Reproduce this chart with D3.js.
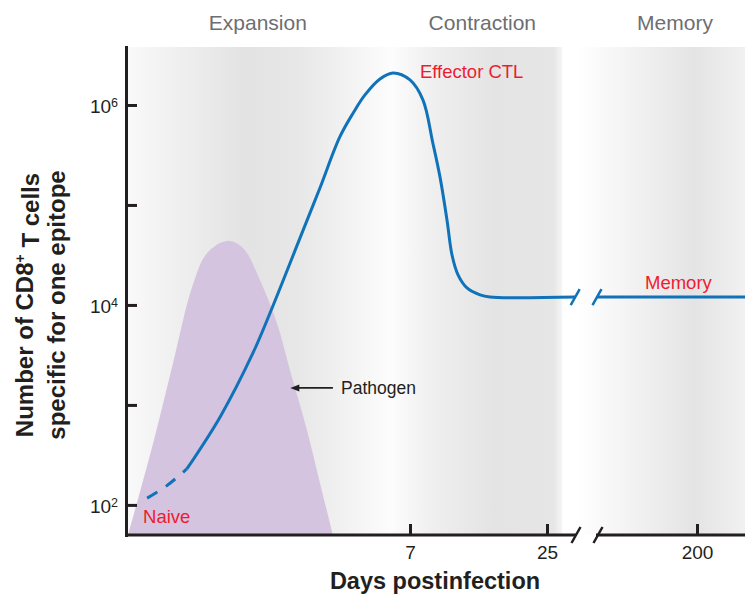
<!DOCTYPE html>
<html>
<head>
<meta charset="utf-8">
<script src="https://cdn.jsdelivr.net/npm/d3@7"></script>
<style>
  body { margin: 0; background: #fff; }
  text { font-family: "Liberation Sans", Arial, sans-serif; }
</style>
</head>
<body>
<svg id="chart"></svg>
<script>
// days postinfection / number of cells
const naiveDays   = [0.52, 1.0, 1.5];
const naiveCounts = [117, 155, 229];

const effectorDays   = [1.5, 2.32, 3.13, 3.55, 4.29, 4.78, 5.27, 5.6, 5.89, 6.26, 6.58, 7.0, 8.71, 10.0, 10.94, 11.86, 12.52, 13.31, 14.49, 16.2, 17.5, 28.7];
const effectorCounts = [229, 759, 3310, 8300, 46800, 148000, 479000, 832000, 1260000, 1820000, 2090000, 1780000, 1120000, 417000, 191000, 70800, 31600, 20000, 14800, 12600, 12000, 12000];

const memoryDays   = [150, 224];
const memoryCounts = [12000, 12000];

const pathogenDays   = [0.05, 0.67, 1.16, 1.63, 2.0, 2.49, 2.88, 3.30, 3.72, 4.04, 4.46, 4.78, 5.10];
const pathogenCounts = [50, 417, 2630, 15100, 33100, 43700, 37200, 17800, 6600, 2240, 562, 166, 50];

const phaseNames = ["Expansion", "Contraction", "Memory"];
const phaseStart = [0, 6.5, 140];
const phaseEnd   = [6.5, 27, 224];
const phaseLabelDays = [3.25, 16.5, 189];

const xTicksEarly = [7, 25];
const xTicksLate  = [200];
const yTicks = [1e2, 1e3, 1e4, 1e5, 1e6];
const yLabelled = {100: "2", 10000: "4", 1000000: "6"};

const margin = {top: 47, right: 0, bottom: 62, left: 126},
  width = 745 - margin.left - margin.right,
  height = 597 - margin.top - margin.bottom;

const ink = "#231f20", blue = "#1072b8", red = "#ee1c2e", purple = "#d5c4df";

const svg = d3.select("#chart")
  .attr("width", width + margin.left + margin.right)
  .attr("height", height + margin.top + margin.bottom);

const g = svg.append("g")
  .attr("transform", "translate(" + margin.left + "," + margin.top + ")");

// the axis is schematic: uneven before the break, separate segment after it
const x = d3.scaleLinear().domain([0, 7, 25]).range([0, 284, 421]);
const xLate = d3.scaleLinear().domain([150, 200]).range([471, 571]);
const y = d3.scaleLog().domain([50, 3.8e6]).range([height, 0]);
const phaseScale = [x, x, xLate];
const breakLeft = 449, breakRight = 471;

// shaded phase bands
const bandStops = [
  [[0, "#fafafa"], [0.1, "#f4f4f4"], [0.45, "#e3e3e3"], [0.65, "#e7e7e7"], [1, "#fcfcfc"]],
  [[0, "#fdfdfd"], [0.25, "#efefef"], [0.6, "#e4e4e4"], [0.95, "#e6e6e6"], [1, "#f6f6f6"]],
  [[0, "#ffffff"], [0.7, "#e4e4e4"], [1, "#f1f1f1"]]
];
const defs = svg.append("defs");
phaseNames.forEach(function(name, i) {
  const x0 = phaseScale[i](phaseStart[i]), x1 = Math.min(width, phaseScale[i](phaseEnd[i]));
  const grad = defs.append("linearGradient")
    .attr("id", "band" + i)
    .attr("gradientUnits", "userSpaceOnUse")
    .attr("x1", x0).attr("x2", x1).attr("y1", 0).attr("y2", 0);
  bandStops[i].forEach(function(s) {
    grad.append("stop").attr("offset", s[0]).attr("stop-color", s[1]);
  });
  g.append("rect")
    .attr("x", x0).attr("y", 0)
    .attr("width", x1 - x0).attr("height", height)
    .attr("fill", "url(#band" + i + ")");
  svg.append("text")
    .attr("x", margin.left + phaseScale[i](phaseLabelDays[i]))
    .attr("y", 30)
    .attr("text-anchor", "middle")
    .style("font-size", "21px")
    .style("fill", "#6d6e71")
    .text(name);
});

// pathogen load
const area = d3.area()
  .x(function(d) { return x(d[0]); })
  .y0(height)
  .y1(function(d) { return y(d[1]); })
  .curve(d3.curveCatmullRom.alpha(0.5));
g.append("path")
  .datum(d3.zip(pathogenDays, pathogenCounts))
  .attr("d", area)
  .attr("fill", purple);

// CD8 T cell curve
const line = d3.line()
  .x(function(d) { return x(d[0]); })
  .y(function(d) { return y(d[1]); })
  .curve(d3.curveCatmullRom.alpha(0.5));
const lineLate = d3.line()
  .x(function(d) { return xLate(d[0]); })
  .y(function(d) { return y(d[1]); });

g.append("path")
  .datum(d3.zip(naiveDays, naiveCounts))
  .attr("d", line)
  .attr("fill", "none").attr("stroke", blue).attr("stroke-width", 3)
  .attr("stroke-dasharray", "12,10");
g.append("path")
  .datum(d3.zip(effectorDays, effectorCounts))
  .attr("d", line)
  .attr("fill", "none").attr("stroke", blue).attr("stroke-width", 3);
g.append("path")
  .datum(d3.zip(memoryDays, memoryCounts))
  .attr("d", lineLate)
  .attr("fill", "none").attr("stroke", blue).attr("stroke-width", 3);

function slash(sel, cx, cy, color) {
  sel.append("line")
    .attr("x1", cx - 4.5).attr("y1", cy + 8)
    .attr("x2", cx + 4.5).attr("y2", cy - 8)
    .attr("stroke", color).attr("stroke-width", 2.5);
}
const lastEarly = effectorCounts[effectorCounts.length - 1];
slash(g, x(effectorDays[effectorDays.length - 1]), y(lastEarly), blue);
slash(g, xLate(memoryDays[0]), y(memoryCounts[0]), blue);

// axes
const yAxis = g.append("g")
  .call(d3.axisLeft(y).tickValues(yTicks).tickSize(-11).tickSizeOuter(0).tickPadding(8).tickFormat(""));
yAxis.selectAll("path, line").attr("stroke", ink).attr("stroke-width", 3);
yAxis.select(".domain").attr("stroke-linecap", "square");
yAxis.selectAll(".tick text")
  .attr("dy", "0.4em")
  .style("font-size", "19px")
  .attr("fill", ink)
  .each(function(d) {
    if (!yLabelled[d]) return;
    const t = d3.select(this);
    t.append("tspan").text("10");
    t.append("tspan").attr("dy", "-0.5em").style("font-size", "12.5px").text(yLabelled[d]);
  });

const xAxis = g.append("g").attr("transform", "translate(0," + height + ")");
xAxis.append("line").attr("x1", 0).attr("x2", breakLeft + 1);
xAxis.append("line").attr("x1", breakRight - 1).attr("x2", width);
xAxis.selectAll("line").attr("stroke", ink).attr("stroke-width", 3);
slash(xAxis, breakLeft + 1, 0, ink);
slash(xAxis, breakRight + 1, 0, ink);
[[x, xTicksEarly], [xLate, xTicksLate]].forEach(function(p) {
  const a = xAxis.append("g")
    .call(d3.axisBottom(p[0]).tickValues(p[1]).tickSize(-11).tickPadding(11));
  a.select(".domain").remove();
  a.selectAll(".tick line").attr("stroke", ink).attr("stroke-width", 3);
  a.selectAll(".tick text").style("font-size", "19px").attr("fill", ink)
    .style("font-family", "Liberation Sans, Arial, sans-serif");
});

// axis titles
svg.append("text")
  .attr("x", 435).attr("y", 589)
  .attr("text-anchor", "middle")
  .style("font-size", "23.5px").style("font-weight", "bold").attr("fill", ink)
  .text("Days postinfection");

const yTitle1 = svg.append("text")
  .attr("transform", "translate(33,305) rotate(-90)")
  .attr("text-anchor", "middle")
  .style("font-size", "24px").style("font-weight", "bold").attr("fill", ink);
yTitle1.append("tspan").text("Number of CD8");
yTitle1.append("tspan").attr("dy", "-0.55em").style("font-size", "14px").text("+");
yTitle1.append("tspan").attr("dy", "0.55em").text(" T cells");
svg.append("text")
  .attr("transform", "translate(65,305) rotate(-90)")
  .attr("text-anchor", "middle")
  .style("font-size", "24px").style("font-weight", "bold").attr("fill", ink)
  .text("specific for one epitope");

// annotations
g.append("text").attr("x", x(0.42)).attr("y", y(66))
  .style("font-size", "18.5px").attr("fill", red).text("Naive");
g.append("text").attr("x", x(8.3)).attr("y", y(1.86e6))
  .style("font-size", "18.5px").attr("fill", red).text("Effector CTL");
g.append("text").attr("x", xLate(174)).attr("y", y(14500))
  .style("font-size", "18.5px").attr("fill", red).text("Memory");

const tipX = x(4.05), tailX = x(5.1), arrowY = y(1480);
g.append("line")
  .attr("x1", tipX + 6).attr("x2", tailX).attr("y1", arrowY).attr("y2", arrowY)
  .attr("stroke", ink).attr("stroke-width", 1.6);
g.append("path")
  .attr("d", "M" + tipX + "," + arrowY + "l9,-3.5l0,7z")
  .attr("fill", ink);
g.append("text").attr("x", x(5.3)).attr("y", arrowY + 6)
  .style("font-size", "17.5px").attr("fill", ink).text("Pathogen");
</script>
</body>
</html>
